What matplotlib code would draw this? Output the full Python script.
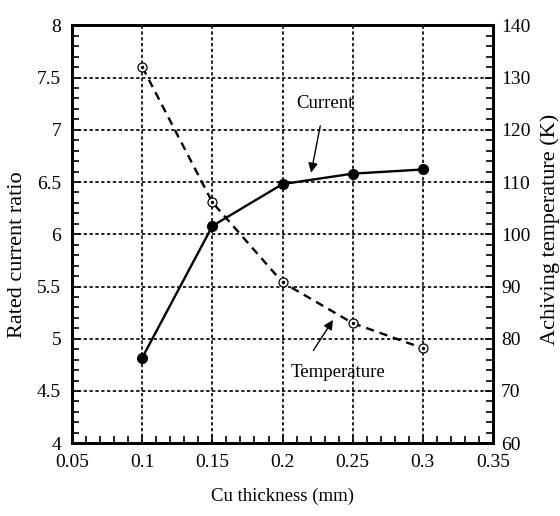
import matplotlib.pyplot as plt
from matplotlib.ticker import MultipleLocator

plt.rcParams['font.family'] = ['Liberation Serif', 'DejaVu Serif']

thickness = [0.1, 0.15, 0.2, 0.25, 0.3]
current_ratio = [4.82, 6.08, 6.48, 6.58, 6.62]
temperature = [132.0, 106.1, 90.8, 83.0, 78.2]

fig, ax = plt.subplots(figsize=(5.6, 5.16), dpi=100)
fig.subplots_adjust(left=0.129, right=0.880, top=0.951, bottom=0.141)
ax2 = ax.twinx()

# current ratio: solid line with filled dots
ax.plot(thickness, current_ratio, '-', color='black', lw=1.7,
        marker='o', ms=7, mfc='black', mec='black', zorder=5)

# temperature: dashed line with circled-dot markers
ax2.plot(thickness, temperature, color='black', lw=1.7, ls=(0, (3.5, 2.5)),
         marker='o', ms=6.5, mfc='white', mec='black', mew=0.9, zorder=5)
ax2.plot(thickness, temperature, 'o', color='black', ms=1.5, zorder=6)

ax.set_xlim(0.05, 0.35)
ax.set_ylim(4, 8)
ax2.set_ylim(60, 140)
ax.xaxis.set_minor_locator(MultipleLocator(0.01))
ax.yaxis.set_minor_locator(MultipleLocator(0.1))
ax2.yaxis.set_major_locator(MultipleLocator(10))
ax2.yaxis.set_minor_locator(MultipleLocator(2))

ax.set_xticks([0.05, 0.1, 0.15, 0.2, 0.25, 0.3, 0.35])
ax.set_xticklabels(['0.05', '0.1', '0.15', '0.2', '0.25', '0.3', '0.35'])
ax.set_yticks([4, 4.5, 5, 5.5, 6, 6.5, 7, 7.5, 8])
ax.set_yticklabels(['4', '4.5', '5', '5.5', '6', '6.5', '7', '7.5', '8'])

ax.grid(True, which='major', linestyle=(0, (2, 1.5)), color='black', lw=1.2)

ax.tick_params(axis='both', which='both', direction='in', labelsize=14,
               top=False, right=False, pad=8)
ax.tick_params(which='major', length=6, width=1.2)
ax.tick_params(which='minor', length=5, width=1.2)
ax2.tick_params(axis='y', which='both', direction='in', labelsize=14, pad=6)
ax2.tick_params(which='major', length=6, width=1.2)
ax2.tick_params(which='minor', length=5, width=1.2)

for sp in ax.spines.values():
    sp.set_linewidth(2)
for sp in ax2.spines.values():
    sp.set_linewidth(2)

ax.set_xlabel('Cu thickness (mm)', fontsize=13.5, labelpad=12)
ax.set_ylabel('Rated current ratio', fontsize=16)
ax2.set_ylabel('Achiving temperature (K)', fontsize=16)
ax.yaxis.set_label_coords(-0.131, 0.45)
ax2.yaxis.set_label_coords(1.136, 0.512)
ax.yaxis.label.set_va('center')
ax2.yaxis.label.set_va('center')

ax.annotate('Current', xy=(0.2204, 6.59), xytext=(0.230, 7.25),
            fontsize=13.5, ha='center', va='center',
            arrowprops=dict(arrowstyle='-|>', color='black', lw=1,
                            shrinkA=8, shrinkB=0, mutation_scale=14))
ax.annotate('Temperature', xy=(0.236, 5.18), xytext=(0.2396, 4.68),
            fontsize=13.5, ha='center', va='center',
            arrowprops=dict(arrowstyle='-|>', color='black', lw=1,
                            shrinkA=9, shrinkB=0, mutation_scale=14,
                            relpos=(0.15, 1.0)))

fig.savefig('out.png', dpi=100)
